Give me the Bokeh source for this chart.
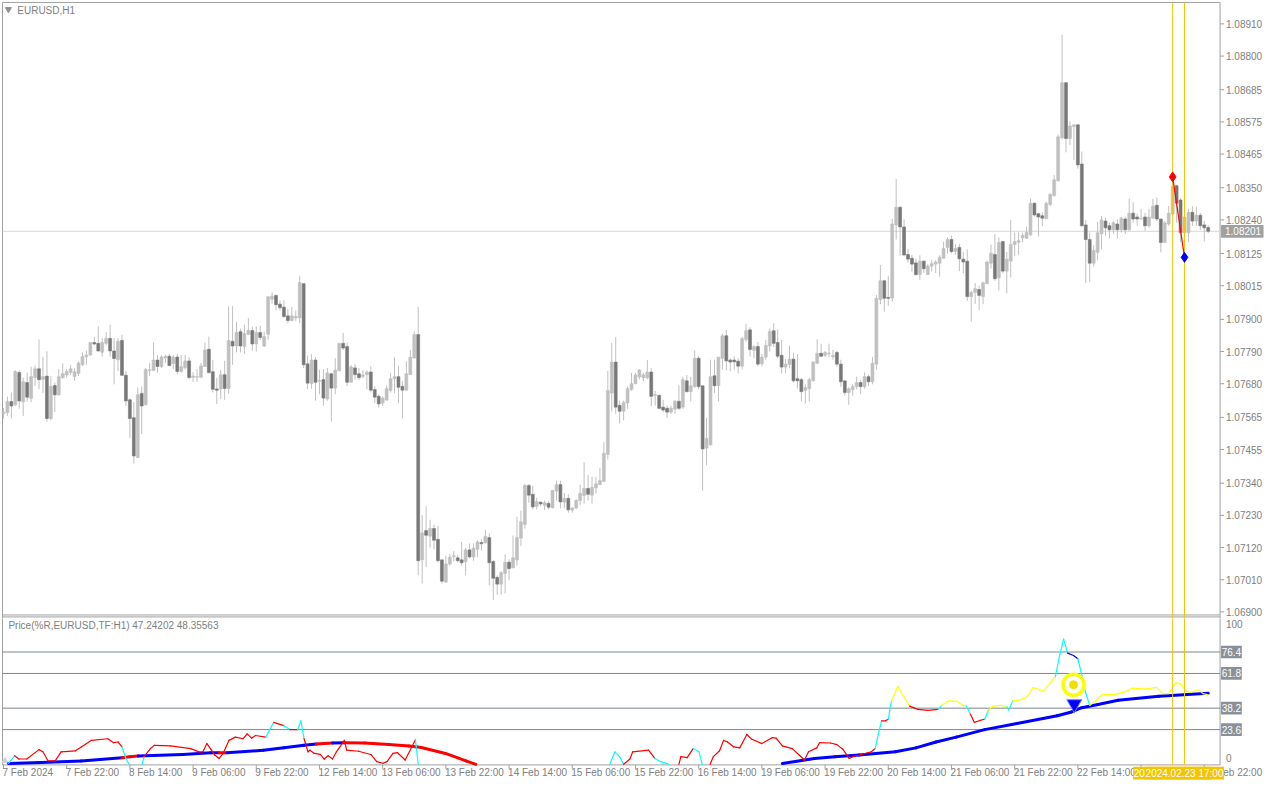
import numpy as np
from bokeh.plotting import figure
from bokeh.models import Range1d, ColumnDataSource
from bokeh.layouts import column
from bokeh.embed import file_html
from bokeh.resources import INLINE
from bokeh.core.properties import value

# ---------------- data: EURUSD H1 candles (bar 0 = 7 Feb 2024 06:00) ----------------
opens = [1.07578, 1.07581, 1.07619, 1.07608, 1.07718, 1.07618, 1.07684, 1.07630, 1.07701, 1.07731,
         1.07695, 1.07706, 1.07561, 1.07674, 1.07642, 1.07701, 1.07711, 1.07718, 1.07705, 1.07715,
         1.07745, 1.07772, 1.07778, 1.07821, 1.07818, 1.07788, 1.07818, 1.07835, 1.07792, 1.07762,
         1.07828, 1.07709, 1.07625, 1.07564, 1.07427, 1.07647, 1.07608, 1.07725, 1.07725, 1.07761,
         1.07739, 1.07768, 1.07774, 1.07749, 1.07771, 1.07722, 1.07735, 1.07758, 1.07702, 1.07702,
         1.07702, 1.07739, 1.07798, 1.07721, 1.07662, 1.07662, 1.07711, 1.07664, 1.07825, 1.07809,
         1.07858, 1.07807, 1.07849, 1.07862, 1.07816, 1.07855, 1.07809, 1.07849, 1.07969, 1.07982,
         1.07952, 1.07942, 1.07912, 1.07896, 1.07905, 1.07905, 1.08022, 1.07748, 1.07681, 1.07761,
         1.07688, 1.07694, 1.07628, 1.07714, 1.07665, 1.07725, 1.07818, 1.07807, 1.07685, 1.07734,
         1.07714, 1.07705, 1.07711, 1.07720, 1.07660, 1.07637, 1.07614, 1.07624, 1.07657, 1.07697,
         1.07704, 1.07671, 1.07658, 1.07711, 1.07768, 1.07848, 1.07078, 1.07178, 1.07159, 1.07185,
         1.07148, 1.07078, 1.07002, 1.07064, 1.07089, 1.07085, 1.07078, 1.07072, 1.07112, 1.07088,
         1.07114, 1.07137, 1.07136, 1.07154, 1.07072, 1.07018, 1.06995, 1.07031, 1.07070, 1.07051,
         1.07078, 1.07152, 1.07199, 1.07332, 1.07302, 1.07261, 1.07275, 1.07264, 1.07271, 1.07256,
         1.07313, 1.07335, 1.07275, 1.07288, 1.07248, 1.07255, 1.07281, 1.07298, 1.07322, 1.07299,
         1.07324, 1.07335, 1.07346, 1.07438, 1.07648, 1.07754, 1.07606, 1.07586, 1.07614, 1.07660,
         1.07680, 1.07704, 1.07700, 1.07700, 1.07720, 1.07640, 1.07640, 1.07600, 1.07596, 1.07583,
         1.07593, 1.07620, 1.07600, 1.07690, 1.07653, 1.07670, 1.07767, 1.07673, 1.07460, 1.07471,
         1.07707, 1.07673, 1.07767, 1.07844, 1.07761, 1.07761, 1.07757, 1.07740, 1.07831, 1.07864,
         1.07794, 1.07807, 1.07748, 1.07771, 1.07809, 1.07861, 1.07821, 1.07777, 1.07737, 1.07746,
         1.07764, 1.07697, 1.07694, 1.07657, 1.07663, 1.07690, 1.07750, 1.07784, 1.07777, 1.07783,
         1.07772, 1.07787, 1.07747, 1.07690, 1.07650, 1.07660, 1.07670, 1.07684, 1.07670, 1.07704,
         1.07687, 1.07747, 1.07968, 1.08032, 1.07975, 1.07973, 1.08223, 1.08283, 1.08216, 1.08122,
         1.08109, 1.08093, 1.08053, 1.08099, 1.08053, 1.08082, 1.08089, 1.08092, 1.08109, 1.08146,
         1.08173, 1.08132, 1.08146, 1.08106, 1.08099, 1.07978, 1.07992, 1.08002, 1.07978, 1.08022,
         1.08092, 1.08122, 1.08042, 1.08166, 1.08065, 1.08099, 1.08156, 1.08164, 1.08179, 1.08177,
         1.08189, 1.08297, 1.08261, 1.08254, 1.08244, 1.08293, 1.08323, 1.08374, 1.08521, 1.08709,
         1.08518, 1.08559, 1.08565, 1.08431, 1.08223, 1.08173, 1.08092, 1.08129, 1.08193, 1.08236,
         1.08220, 1.08206, 1.08226, 1.08206, 1.08243, 1.08206, 1.08263, 1.08250, 1.08244, 1.08250,
         1.08220, 1.08246, 1.08290, 1.08243, 1.08163, 1.08226, 1.08260, 1.08357, 1.08308, 1.08196,
         1.08196, 1.08266, 1.08236, 1.08256, 1.08223, 1.08214]

highs = [1.07597, 1.07636, 1.07650, 1.07726, 1.07726, 1.07701, 1.07718, 1.07738, 1.07742, 1.07831,
         1.07771, 1.07791, 1.07706, 1.07684, 1.07731, 1.07749, 1.07731, 1.07744, 1.07733, 1.07757,
         1.07787, 1.07793, 1.07821, 1.07840, 1.07876, 1.07835, 1.07857, 1.07882, 1.07835, 1.07836,
         1.07848, 1.07723, 1.07630, 1.07617, 1.07667, 1.07671, 1.07734, 1.07751, 1.07821, 1.07778,
         1.07778, 1.07779, 1.07782, 1.07778, 1.07782, 1.07778, 1.07778, 1.07771, 1.07720, 1.07731,
         1.07751, 1.07821, 1.07841, 1.07761, 1.07700, 1.07728, 1.07758, 1.07945, 1.07945, 1.07892,
         1.07868, 1.07882, 1.07905, 1.07875, 1.07875, 1.07878, 1.07858, 1.07979, 1.07992, 1.07982,
         1.07965, 1.07965, 1.07935, 1.07943, 1.07930, 1.08049, 1.08022, 1.07776, 1.07781, 1.07771,
         1.07728, 1.07730, 1.07734, 1.07717, 1.07767, 1.07818, 1.07854, 1.07821, 1.07744, 1.07747,
         1.07734, 1.07727, 1.07725, 1.07740, 1.07672, 1.07644, 1.07637, 1.07675, 1.07717, 1.07771,
         1.07742, 1.07689, 1.07756, 1.07795, 1.07859, 1.07943, 1.07231, 1.07261, 1.07215, 1.07198,
         1.07194, 1.07078, 1.07092, 1.07097, 1.07108, 1.07096, 1.07139, 1.07118, 1.07134, 1.07134,
         1.07145, 1.07148, 1.07181, 1.07168, 1.07078, 1.07025, 1.07039, 1.07096, 1.07080, 1.07161,
         1.07226, 1.07246, 1.07337, 1.07337, 1.07332, 1.07290, 1.07278, 1.07281, 1.07278, 1.07317,
         1.07349, 1.07349, 1.07306, 1.07302, 1.07259, 1.07285, 1.07335, 1.07412, 1.07369, 1.07362,
         1.07362, 1.07393, 1.07480, 1.07724, 1.07821, 1.07840, 1.07622, 1.07622, 1.07670, 1.07717,
         1.07717, 1.07730, 1.07717, 1.07761, 1.07734, 1.07655, 1.07643, 1.07625, 1.07605, 1.07605,
         1.07625, 1.07675, 1.07704, 1.07710, 1.07704, 1.07794, 1.07775, 1.07673, 1.07563, 1.07762,
         1.07762, 1.07771, 1.07851, 1.07864, 1.07767, 1.07773, 1.07767, 1.07840, 1.07885, 1.07873,
         1.07811, 1.07823, 1.07782, 1.07829, 1.07868, 1.07887, 1.07866, 1.07829, 1.07765, 1.07811,
         1.07786, 1.07781, 1.07700, 1.07678, 1.07700, 1.07757, 1.07832, 1.07816, 1.07792, 1.07817,
         1.07795, 1.07792, 1.07762, 1.07690, 1.07667, 1.07678, 1.07704, 1.07692, 1.07719, 1.07711,
         1.07771, 1.07983, 1.08086, 1.08035, 1.08049, 1.08244, 1.08380, 1.08287, 1.08242, 1.08141,
         1.08121, 1.08108, 1.08119, 1.08102, 1.08089, 1.08102, 1.08102, 1.08119, 1.08166, 1.08180,
         1.08186, 1.08158, 1.08158, 1.08130, 1.08139, 1.07998, 1.08024, 1.08015, 1.08029, 1.08101,
         1.08156, 1.08192, 1.08180, 1.08169, 1.08130, 1.08240, 1.08197, 1.08197, 1.08197, 1.08217,
         1.08313, 1.08300, 1.08264, 1.08266, 1.08303, 1.08331, 1.08393, 1.08532, 1.08873, 1.08709,
         1.08577, 1.08566, 1.08566, 1.08474, 1.08240, 1.08197, 1.08153, 1.08233, 1.08253, 1.08247,
         1.08231, 1.08236, 1.08242, 1.08250, 1.08251, 1.08313, 1.08300, 1.08262, 1.08278, 1.08264,
         1.08278, 1.08312, 1.08317, 1.08244, 1.08236, 1.08287, 1.08387, 1.08360, 1.08314, 1.08264,
         1.08278, 1.08287, 1.08284, 1.08264, 1.08236, 1.08222]

lows = [1.07561, 1.07570, 1.07561, 1.07604, 1.07595, 1.07570, 1.07619, 1.07617, 1.07673, 1.07662,
        1.07648, 1.07550, 1.07555, 1.07583, 1.07639, 1.07697, 1.07701, 1.07709, 1.07690, 1.07706,
        1.07740, 1.07745, 1.07776, 1.07812, 1.07790, 1.07773, 1.07812, 1.07773, 1.07678, 1.07723,
        1.07706, 1.07604, 1.07494, 1.07407, 1.07427, 1.07508, 1.07606, 1.07706, 1.07725, 1.07718,
        1.07734, 1.07751, 1.07740, 1.07729, 1.07712, 1.07718, 1.07729, 1.07695, 1.07686, 1.07686,
        1.07701, 1.07739, 1.07715, 1.07650, 1.07611, 1.07628, 1.07625, 1.07645, 1.07745, 1.07787,
        1.07787, 1.07782, 1.07846, 1.07793, 1.07790, 1.07829, 1.07805, 1.07831, 1.07954, 1.07930,
        1.07930, 1.07905, 1.07887, 1.07894, 1.07894, 1.07887, 1.07734, 1.07662, 1.07663, 1.07622,
        1.07644, 1.07605, 1.07622, 1.07550, 1.07644, 1.07722, 1.07795, 1.07672, 1.07684, 1.07695,
        1.07692, 1.07700, 1.07661, 1.07650, 1.07614, 1.07598, 1.07605, 1.07622, 1.07650, 1.07648,
        1.07614, 1.07561, 1.07656, 1.07711, 1.07766, 1.07025, 1.06997, 1.07053, 1.07120, 1.07114,
        1.07069, 1.06997, 1.07000, 1.07058, 1.07072, 1.07069, 1.07058, 1.07025, 1.07083, 1.07075,
        1.07088, 1.07110, 1.07134, 1.06991, 1.06941, 1.06958, 1.06958, 1.06963, 1.07008, 1.07049,
        1.07058, 1.07125, 1.07185, 1.07273, 1.07250, 1.07250, 1.07261, 1.07248, 1.07250, 1.07254,
        1.07281, 1.07254, 1.07254, 1.07239, 1.07239, 1.07252, 1.07265, 1.07270, 1.07281, 1.07270,
        1.07304, 1.07335, 1.07344, 1.07421, 1.07585, 1.07577, 1.07544, 1.07555, 1.07594, 1.07656,
        1.07678, 1.07695, 1.07689, 1.07695, 1.07603, 1.07605, 1.07592, 1.07583, 1.07563, 1.07577,
        1.07577, 1.07590, 1.07594, 1.07650, 1.07619, 1.07667, 1.07661, 1.07315, 1.07402, 1.07469,
        1.07648, 1.07619, 1.07728, 1.07726, 1.07723, 1.07728, 1.07715, 1.07728, 1.07823, 1.07773,
        1.07767, 1.07739, 1.07739, 1.07762, 1.07790, 1.07806, 1.07767, 1.07715, 1.07715, 1.07734,
        1.07684, 1.07663, 1.07619, 1.07612, 1.07619, 1.07688, 1.07748, 1.07771, 1.07771, 1.07770,
        1.07762, 1.07739, 1.07670, 1.07639, 1.07608, 1.07639, 1.07661, 1.07644, 1.07663, 1.07672,
        1.07678, 1.07728, 1.07952, 1.07926, 1.07946, 1.07960, 1.08173, 1.08119, 1.08117, 1.08094,
        1.08063, 1.08050, 1.08035, 1.08058, 1.08052, 1.08063, 1.08058, 1.08046, 1.08108, 1.08125,
        1.08125, 1.08120, 1.08065, 1.08058, 1.07963, 1.07892, 1.07952, 1.07931, 1.07952, 1.08021,
        1.08074, 1.08032, 1.07998, 1.08058, 1.07989, 1.08043, 1.08116, 1.08120, 1.08164, 1.08175,
        1.08186, 1.08251, 1.08184, 1.08220, 1.08244, 1.08287, 1.08320, 1.08371, 1.08515, 1.08471,
        1.08496, 1.08445, 1.08415, 1.08217, 1.08024, 1.08027, 1.08080, 1.08102, 1.08139, 1.08186,
        1.08177, 1.08192, 1.08175, 1.08197, 1.08192, 1.08203, 1.08231, 1.08220, 1.08239, 1.08203,
        1.08214, 1.08244, 1.08236, 1.08129, 1.08161, 1.08220, 1.08257, 1.08231, 1.08164, 1.08175,
        1.08164, 1.08220, 1.08220, 1.08206, 1.08166, 1.08195]

closes = [1.07583, 1.07619, 1.07604, 1.07722, 1.07621, 1.07687, 1.07634, 1.07704, 1.07731, 1.07694,
          1.07704, 1.07561, 1.07671, 1.07642, 1.07704, 1.07714, 1.07722, 1.07731, 1.07721, 1.07751,
          1.07773, 1.07778, 1.07821, 1.07816, 1.07792, 1.07821, 1.07835, 1.07792, 1.07766, 1.07825,
          1.07709, 1.07621, 1.07561, 1.07433, 1.07642, 1.07604, 1.07729, 1.07728, 1.07761, 1.07739,
          1.07771, 1.07774, 1.07742, 1.07771, 1.07722, 1.07738, 1.07758, 1.07701, 1.07706, 1.07704,
          1.07741, 1.07795, 1.07718, 1.07661, 1.07658, 1.07711, 1.07664, 1.07828, 1.07809, 1.07855,
          1.07809, 1.07852, 1.07862, 1.07816, 1.07855, 1.07838, 1.07841, 1.07977, 1.07979, 1.07950,
          1.07940, 1.07910, 1.07896, 1.07912, 1.07910, 1.08026, 1.07745, 1.07682, 1.07761, 1.07685,
          1.07691, 1.07631, 1.07717, 1.07665, 1.07727, 1.07818, 1.07802, 1.07685, 1.07737, 1.07711,
          1.07701, 1.07710, 1.07720, 1.07658, 1.07634, 1.07611, 1.07631, 1.07663, 1.07697, 1.07704,
          1.07668, 1.07658, 1.07714, 1.07771, 1.07848, 1.07075, 1.07170, 1.07162, 1.07185, 1.07145,
          1.07075, 1.07005, 1.07064, 1.07087, 1.07092, 1.07075, 1.07068, 1.07112, 1.07088, 1.07118,
          1.07139, 1.07133, 1.07158, 1.07068, 1.07015, 1.06995, 1.07034, 1.07070, 1.07048, 1.07085,
          1.07154, 1.07208, 1.07332, 1.07299, 1.07259, 1.07277, 1.07269, 1.07273, 1.07258, 1.07315,
          1.07335, 1.07276, 1.07288, 1.07249, 1.07255, 1.07281, 1.07305, 1.07322, 1.07302, 1.07326,
          1.07338, 1.07349, 1.07442, 1.07657, 1.07754, 1.07600, 1.07586, 1.07616, 1.07663, 1.07680,
          1.07710, 1.07727, 1.07710, 1.07720, 1.07637, 1.07643, 1.07596, 1.07590, 1.07583, 1.07596,
          1.07620, 1.07596, 1.07694, 1.07653, 1.07673, 1.07767, 1.07670, 1.07457, 1.07493, 1.07704,
          1.07673, 1.07771, 1.07844, 1.07758, 1.07754, 1.07755, 1.07740, 1.07834, 1.07861, 1.07797,
          1.07807, 1.07747, 1.07771, 1.07811, 1.07859, 1.07818, 1.07774, 1.07737, 1.07747, 1.07764,
          1.07690, 1.07690, 1.07653, 1.07667, 1.07694, 1.07754, 1.07784, 1.07774, 1.07787, 1.07785,
          1.07777, 1.07747, 1.07687, 1.07650, 1.07663, 1.07670, 1.07684, 1.07670, 1.07704, 1.07687,
          1.07750, 1.07972, 1.08032, 1.07972, 1.07972, 1.08226, 1.08283, 1.08216, 1.08120, 1.08106,
          1.08089, 1.08053, 1.08099, 1.08073, 1.08082, 1.08090, 1.08096, 1.08112, 1.08142, 1.08173,
          1.08132, 1.08142, 1.08107, 1.08096, 1.07978, 1.07992, 1.08005, 1.07982, 1.08025, 1.08096,
          1.08126, 1.08039, 1.08163, 1.08065, 1.08106, 1.08156, 1.08166, 1.08169, 1.08187, 1.08197,
          1.08297, 1.08257, 1.08250, 1.08246, 1.08297, 1.08327, 1.08377, 1.08524, 1.08709, 1.08518,
          1.08561, 1.08565, 1.08428, 1.08220, 1.08173, 1.08092, 1.08136, 1.08196, 1.08240, 1.08213,
          1.08206, 1.08230, 1.08206, 1.08246, 1.08206, 1.08263, 1.08243, 1.08243, 1.08246, 1.08220,
          1.08250, 1.08287, 1.08243, 1.08163, 1.08230, 1.08263, 1.08354, 1.08297, 1.08196, 1.08250,
          1.08266, 1.08236, 1.08256, 1.08220, 1.08213, 1.08201]

current_price = 1.08201

price_ticks = [1.06900, 1.07010, 1.07120, 1.07230, 1.07340, 1.07455, 1.07565, 1.07680, 1.07790,
               1.07900, 1.08015, 1.08125, 1.08240, 1.08350, 1.08465, 1.08575, 1.08685, 1.08800, 1.08910]

time_tick_bars = [0, 16, 32, 48, 64, 80, 96, 112, 128, 144, 160, 176, 192, 208, 224, 240, 256, 272, 288, 304]
time_tick_labels = ["7 Feb 2024", "7 Feb 22:00", "8 Feb 14:00", "9 Feb 06:00", "9 Feb 22:00",
                    "12 Feb 14:00", "13 Feb 06:00", "13 Feb 22:00", "14 Feb 14:00", "15 Feb 06:00",
                    "15 Feb 22:00", "16 Feb 14:00", "19 Feb 06:00", "19 Feb 22:00", "20 Feb 14:00",
                    "21 Feb 06:00", "21 Feb 22:00", "22 Feb 14:00", "23 Feb 06:00", "23 Feb 22:00"]

# vertical marker lines and their highlighted times
vline_bars = [296, 299]
vline_labels = ["2024.02.23 14:00", "2024.02.23 17:00"]

# swing markers on the price chart
swing_bars = [296, 299]
swing_prices = [1.08387, 1.08112]
swing_colors = ["#ff0000", "#0000ff"]

# ---------------- indicator: Price(%R) line and its average ----------------
fib_levels = [23.6, 38.2, 61.8, 76.4]

wpr_bar = [1.3, 2.8, 3.9, 5.9, 9.0, 10.0, 11.3, 13.1, 14.6, 18.2,
           19.7, 22.3, 26.4, 27.9, 29.0, 30.0, 31.0, 31.8, 35.1, 35.6,
           37.2, 38.2, 42.3, 47.4, 49.5, 50.5, 51.5, 52.5, 53.5, 54.6,
           55.6, 57.1, 58.7, 60.7, 61.7, 62.8, 63.8, 66.4, 68.4, 71.0,
           72.5, 74.5, 75.3, 76.1, 77.1, 77.6, 78.7, 80.2, 81.2, 82.2,
           83.3, 84.3, 86.3, 86.9, 89.9, 93.0, 94.5, 96.1, 97.1, 98.6,
           99.7, 101.7, 104.3, 105.0, 153.5, 154.8, 156.0, 157.0, 158.6, 159.3,
           163.3, 164.9, 166.4, 168.5, 171.0, 171.5, 173.1, 174.6, 176.1, 176.9,
           178.9, 179.7, 181.3, 182.3, 183.3, 184.9, 186.4, 188.2, 189.5, 192.0,
           194.6, 195.6, 197.2, 199.7, 201.3, 202.8, 203.8, 205.9, 206.6, 209.4,
           211.0, 212.5, 214.1, 215.1, 217.2, 219.7, 220.7, 221.5, 222.3, 223.3,
           224.0, 224.8, 226.4, 227.9, 229.4, 231.5, 234.0, 236.6, 237.6, 239.2,
           241.2, 242.8, 243.8, 244.8, 245.8, 247.4, 248.4, 249.4, 250.4, 252.5,
           254.0, 254.5, 255.5, 257.6, 259.1, 260.7, 262.2, 263.2, 264.8, 266.3,
           267.3, 268.4, 269.4, 270.9, 272.0, 273.0, 274.0, 275.0, 276.5, 278.1,
           281.2, 284.3, 285.8, 288.8, 291.9, 293.5, 295.0, 296.8, 298.0, 299.4,
           300.7, 302.5, 303.7, 305.0]
wpr_val = [0.7, 5.8, 3.6, 3.6, 10.0, 8.5, 2.3, 2.3, 8.5, 9.2,
           11.8, 16.3, 17.4, 14.7, 15.2, 11.8, 4.0, 0.0, 0.0, 5.2,
           10.7, 12.9, 12.5, 10.7, 8.5, 8.5, 14.1, 10.3, 6.3, 4.0,
           7.4, 16.3, 18.5, 17.4, 20.7, 17.8, 19.6, 18.5, 28.5, 26.3,
           23.6, 23.6, 29.6, 17.4, 8.5, 9.6, 7.4, 6.7, 3.6, 5.8,
           3.6, 8.5, 16.3, 9.6, 8.9, 6.7, 1.8, 0.7, 1.8, 7.4,
           8.0, 2.9, 16.7, 0.0, 0.0, 8.5, 5.2, 0.0, 3.6, 8.5,
           9.6, 4.0, 1.8, 0.0, 0.0, 5.2, 4.5, 10.7, 8.5, 0.0,
           0.0, 5.2, 9.2, 16.3, 15.2, 11.8, 11.2, 20.3, 17.0, 14.1,
           18.1, 17.8, 12.5, 10.7, 6.7, 2.9, 8.5, 11.2, 14.7, 14.5,
           13.4, 10.3, 4.0, 5.2, 6.7, 8.5, 10.7, 20.7, 29.6, 29.6,
           30.7, 43.0, 53.0, 46.3, 39.6, 37.4, 36.7, 37.4, 40.1, 43.0,
           43.0, 40.3, 39.6, 34.0, 28.5, 30.0, 30.7, 36.9, 39.6, 40.1,
           39.2, 36.9, 43.0, 44.0, 45.8, 52.3, 50.7, 49.6, 54.5, 59.6,
           73.0, 85.2, 75.6, 74.0, 71.8, 60.7, 48.5, 40.1, 43.0, 47.4,
           47.4, 49.6, 51.8, 51.2, 52.3, 48.1, 48.1, 55.6, 54.7, 49.6,
           49.0, 50.7, 48.1, 47.24]
# colour of the stretch leading into each point: r red, c cyan, y yellow, b blue, n hidden
wpr_col = list("ncrrrrrrrr" "rrrrrrccnc" "rrrrrrrrrr" "rrrrrrrrcr" "crccrrrrrr"
               "rrrrrrrrrr" "rrrcncccrr" "rrccnrrrcc" "nrrrrrrrrr" "rrrrrrrrrr"
               "rrrrrrrccr" "rcyyyrrrcy" "yyycrrrcyy" "yccyyyyyyy" "cccbbcccyy"
               "yyyyyyyyyy" "yyyy")

ma_bar = [1.3, 9.5, 19.7, 30.0, 32.0, 34.1, 45.4, 52.5, 54.6, 56.6, 65.8, 71.0, 76.1, 79.2, 83.3, 86.3,
          91.5, 97.6, 102.7, 105.8, 111.9, 117.1, 119.6,
          197.2, 205.3, 210.5, 216.6, 225.8, 231.0, 236.1, 241.2, 248.4, 256.6, 266.8, 270.4, 273.0,
          277.1, 282.2, 292.5, 305.0]
ma_val = [0.5, 1.2, 2.3, 4.5, 5.2, 5.6, 6.7, 7.8, 7.8, 7.8, 9.6, 11.2, 12.9, 13.8, 14.5, 14.7,
          14.5, 13.4, 12.5, 11.4, 7.4, 2.3, 0.0,
          0.5, 4.0, 5.2, 6.3, 8.5, 11.2, 15.2, 18.5, 23.6, 27.8, 33.0, 35.6, 38.5,
          40.7, 43.6, 46.3, 48.36]
ma_col = list("nbbbrrbbbrbbbbrbrrrrrrr" "nbbbbbbbbbbbbbbbb")

signal_circle = (270.9, 54.1)
signal_arrow = (271.1, 41.0)

# ---------------- styling / layout helpers ----------------
LIGHT = "#c0c0c0"
DARK = "#787878"
TXT = "#808080"
FRAME = "#a0a0a0"
LEVEL = "#7d8590"
GOLD = "#f5c400"
FONT = "Liberation Sans"
FS = "10px"
COLMAP = {"r": "#ff0000", "c": "#00ffff", "y": "#ffff00", "b": "#0000ff"}

W, H_MAIN, H_IND = 1264, 618, 166
SY = 0.98
SPLIT = H_MAIN / SY          # row (in 800-row layout) where the two canvases meet


def bar_at(px):        # column of a 1280-wide layout -> bar index
    return (px - 3) / 4.0


def price_at(py):      # row -> price in the upper panel
    return 1.0899 - 0.0000335 * py


def ind_at(py):        # row -> indicator value in the lower panel
    return (779.4 - py) / 1.5


XL = bar_at(2)                 # left edge of the plot area
AX = bar_at(1235)              # price-scale line
xr = Range1d(bar_at(0), bar_at(1280))


def txt(fig, x, y, s, color=TXT, align="left"):
    fig.text(x=x, y=y, text=s, text_font=value(FONT), text_font_size=value(FS), text_color=color,
             text_baseline="middle", text_align=align)


def base_fig(h, yr):
    f = figure(width=W, height=h, x_range=xr, y_range=yr, x_axis_location=None, y_axis_location=None,
               toolbar_location=None, output_backend="svg", min_border=0,
               background_fill_color="white", border_fill_color="white")
    f.outline_line_color = None
    f.xgrid.visible = False
    f.ygrid.visible = False
    return f


# ---------------- main price panel ----------------
p = base_fig(H_MAIN, Range1d(price_at(SPLIT), price_at(0)))
PT, PB, PE = price_at(2), price_at(627), price_at(SPLIT + 1)
ITOP = price_at(629)           # top edge of the indicator area (falls in this canvas)

p.segment(x0=[XL, XL, XL, AX, XL], y0=[PE, PT, PB, PE, ITOP], x1=[XL, AX, AX, AX, AX],
          y1=[PT, PT, PB, PT, ITOP], line_color=FRAME, line_width=1)
p.segment(x0=[AX] * len(price_ticks), y0=price_ticks, x1=[bar_at(1239)] * len(price_ticks),
          y1=price_ticks, line_color=FRAME, line_width=1)
txt(p, [bar_at(1241)] * len(price_ticks), price_ticks, [f"{t:.5f}" for t in price_ticks])

p.segment(x0=[XL], y0=[current_price], x1=[AX], y1=[current_price], line_color="#d8d8d8", line_width=1)

idx = np.arange(len(closes))
o = np.array(opens)
c = np.array(closes)
up = c >= o
src = ColumnDataSource(dict(x=idx, top=np.maximum(o, c), bottom=np.minimum(o, c),
                            high=np.array(highs), low=np.array(lows),
                            color=np.where(up, LIGHT, DARK)))
p.segment(x0="x", y0="low", x1="x", y1="high", source=src, line_color=LIGHT, line_width=1)
p.vbar(x="x", width=0.74, top="top", bottom="bottom", fill_color="color", line_color="color",
       line_width=0.6, source=src)

p.segment(x0=vline_bars, y0=[PE] * 2, x1=vline_bars, y1=[PT] * 2, line_color=GOLD, line_width=1)
p.line(swing_bars, swing_prices, line_color="#ff0000", line_width=1.2)
p.scatter(swing_bars, swing_prices, marker="diamond", size=10, color=swing_colors)

p.scatter([bar_at(8)], [price_at(9)], marker="inverted_triangle", size=6, color="#909090")
txt(p, [bar_at(17)], [price_at(10)], ["EURUSD,H1"])

p.quad(left=[bar_at(1236)], right=[bar_at(1279)], top=[current_price + 6.5 * 0.0000335],
       bottom=[current_price - 6.5 * 0.0000335], fill_color="#a0a0a0", line_color=None)
txt(p, [bar_at(1240)], [current_price], [f"{current_price:.5f}"], color="white")

# ---------------- indicator panel ----------------
q = base_fig(H_IND, Range1d(ind_at(800), ind_at(SPLIT)))
IT, IB = ind_at(SPLIT - 1), ind_at(780)

q.segment(x0=[XL, XL, AX], y0=[IB, IB, IB], x1=[XL, AX, AX], y1=[IT, IB, IT],
          line_color=FRAME, line_width=1)
q.segment(x0=[XL] * 4, y0=fib_levels, x1=[AX] * 4, y1=fib_levels, line_color=LEVEL, line_width=1)
q.segment(x0=time_tick_bars, y0=[IB] * len(time_tick_bars), x1=time_tick_bars,
          y1=[ind_at(784)] * len(time_tick_bars), line_color=FRAME, line_width=1)
q.scatter([bar_at(4.5)], [ind_at(776)], marker="triangle", size=6, color="#d0d0d0")


def segments(xs, vs, cs):
    d = dict(x0=[], y0=[], x1=[], y1=[], color=[])
    for i in range(1, len(xs)):
        if cs[i] == "n":
            continue
        d["x0"].append(xs[i - 1]); d["y0"].append(vs[i - 1])
        d["x1"].append(xs[i]); d["y1"].append(vs[i])
        d["color"].append(COLMAP[cs[i]])
    return ColumnDataSource(d)


q.segment(x0="x0", y0="y0", x1="x1", y1="y1", color="color", line_width=3, line_cap="round",
          source=segments(ma_bar, ma_val, ma_col))
q.segment(x0="x0", y0="y0", x1="x1", y1="y1", color="color", line_width=1.2, line_cap="round",
          source=segments(wpr_bar, wpr_val, wpr_col))

q.scatter([signal_circle[0]], [signal_circle[1]], marker="circle", size=21, fill_color=None,
          line_color="#ffff00", line_width=3.5)
q.scatter([signal_circle[0]], [signal_circle[1]], marker="circle", size=8, color="#f0e000")
q.scatter([signal_arrow[0]], [signal_arrow[1]], marker="inverted_triangle", size=15,
          fill_color="#0000ff", line_color="#8080ff", line_width=1)

q.segment(x0=vline_bars, y0=[IB] * 2, x1=vline_bars, y1=[IT] * 2, line_color=GOLD, line_width=1)

txt(q, [bar_at(8)], [ind_at(638)], ["Price(%R,EURUSD,TF:H1) 47.24202 48.35563"])

half = 6.5 / 1.5
q.quad(left=[bar_at(1236)] * 4, right=[bar_at(1257)] * 4, top=[lv + half for lv in fib_levels],
       bottom=[lv - half for lv in fib_levels], fill_color="#8a9099", line_color=None)
txt(q, [bar_at(1246.5)] * 4, fib_levels, [f"{lv}" for lv in fib_levels], color="white", align="center")
txt(q, [bar_at(1241)] * 2, [ind_at(636.5), ind_at(772.5)], ["100", "0"])

txt(q, [b - 0.25 for b in time_tick_bars], [ind_at(788)] * len(time_tick_bars), time_tick_labels)
for b, t in zip(vline_bars, vline_labels):
    bx = 3 + 4 * b
    q.quad(left=[bar_at(bx - 40)], right=[bar_at(bx + 40)], top=[ind_at(782)], bottom=[ind_at(795)],
           fill_color=GOLD, line_color=None)
    txt(q, [b], [ind_at(788.5)], [t], color="white", align="center")

layout = column(p, q, spacing=0)
open("out.html", "w").write(file_html(layout, INLINE))
